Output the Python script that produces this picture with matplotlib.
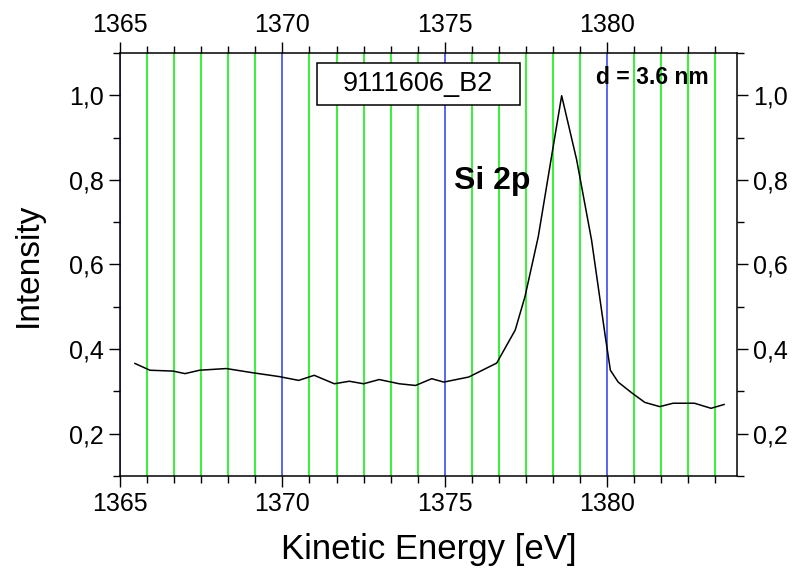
import matplotlib

matplotlib.use("Agg")
import matplotlib.pyplot as plt
from matplotlib.patches import Rectangle
from matplotlib.ticker import FuncFormatter, MultipleLocator

# Si 2p spectrum
energy = [1365.46, 1365.92, 1366.63, 1367.0, 1367.45, 1368.27, 1369.09, 1369.9,
          1370.5, 1370.98, 1371.6, 1372.06, 1372.5, 1372.98, 1373.6, 1374.1,
          1374.6, 1374.97, 1375.74, 1376.6, 1377.17, 1377.47, 1377.88, 1378.29,
          1378.6, 1379.06, 1379.52, 1379.93, 1380.1, 1380.34, 1380.75, 1381.16,
          1381.62, 1382.03, 1382.69, 1383.2, 1383.6]
intensity = [0.366, 0.350, 0.348, 0.342, 0.350, 0.354, 0.344, 0.335,
             0.326, 0.338, 0.318, 0.324, 0.318, 0.328, 0.318, 0.314,
             0.330, 0.322, 0.334, 0.367, 0.445, 0.524, 0.666, 0.856,
             0.999, 0.848, 0.658, 0.437, 0.350, 0.322, 0.297, 0.274,
             0.264, 0.272, 0.272, 0.260, 0.269]

sample_name = "9111606_B2"
thickness = "d = 3.6 nm"
peak_label = "Si 2p"

plt.rcParams["font.family"] = ["Liberation Sans", "DejaVu Sans"]

fig = plt.figure(figsize=(7.96, 5.71), dpi=100)
ax = fig.add_axes([0.1508, 0.1664, 0.7751, 0.7408])

# vertical grid: green at minor ticks, blue at major ticks
ax.xaxis.set_major_locator(MultipleLocator(5))
ax.xaxis.set_minor_locator(MultipleLocator(5 / 6))
ax.yaxis.set_major_locator(MultipleLocator(0.2))
ax.yaxis.set_minor_locator(MultipleLocator(0.1))
ax.grid(axis="x", which="minor", color="#00ee00", linewidth=1.1)
ax.grid(axis="x", which="major", color="#2a3ee8", linewidth=1.1)
ax.set_axisbelow(True)

ax.plot(energy, intensity, color="black", linewidth=1.1)

ax.set_xlim(1365, 1384)
ax.set_ylim(0.1, 1.1)
ax.yaxis.set_major_formatter(FuncFormatter(lambda v, p: f"{v:.1f}".replace(".", ",")))

for s in ax.spines.values():
    s.set_linewidth(1.1)
ax.tick_params(which="both", direction="out", top=True, right=True,
               labeltop=True, labelright=True, labelsize=18, width=1.0)
ax.tick_params(which="major", length=8)
ax.tick_params(which="minor", length=5)

ax.set_xlabel("Kinetic Energy [eV]", fontsize=25, labelpad=12)
ax.set_ylabel("Intensity", fontsize=24, labelpad=18)

# sample name box
ax.add_patch(Rectangle((0.319, 0.877), 0.329, 0.099, transform=ax.transAxes,
                       facecolor="white", edgecolor="black", linewidth=1.1, zorder=3))
ax.text(0.4835, 0.927, sample_name, transform=ax.transAxes, fontsize=19.5,
        ha="center", va="center", zorder=4)
ax.text(0.862, 0.941, thickness, transform=ax.transAxes, fontsize=16.5,
        fontweight="bold", ha="center", va="center")
ax.text(0.603, 0.697, peak_label, transform=ax.transAxes, fontsize=23,
        fontweight="bold", ha="center", va="center")

fig.savefig("out.png", dpi=100, facecolor="white")
plt.close(fig)
